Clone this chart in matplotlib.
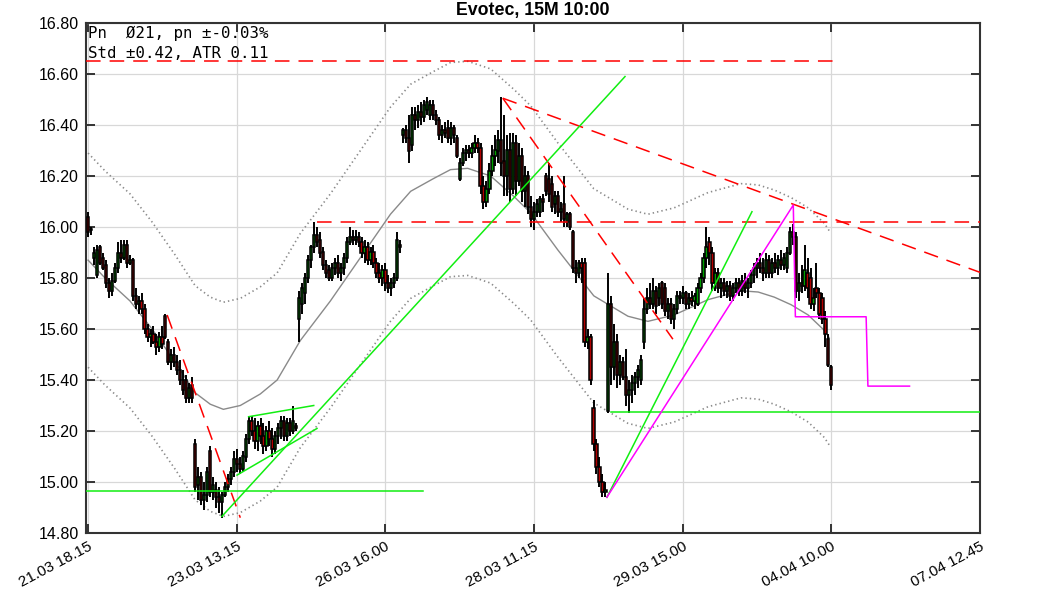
import matplotlib
matplotlib.use("Agg")
import matplotlib.pyplot as plt
import matplotlib.transforms as mtrans
import numpy as np

plt.rcParams['lines.scale_dashes'] = False
plt.rcParams['font.family'] = ['Liberation Sans', 'DejaVu Sans']

# ---------------- data ----------------
tick_pos = [0, 50, 100, 150, 200, 250, 300]
tick_labels = ["21.03 18.15", "23.03 13.15", "26.03 16.00", "28.03 11.15",
               "29.03 15.00", "04.04 10.00", "07.04 12.45"]
y_ticks = [14.8, 15.0, 15.2, 15.4, 15.6, 15.8, 16.0, 16.2, 16.4, 16.6, 16.8]

opens = [16.04, 15.99, 15.88, 15.81, 15.92, 15.88, 15.85, 15.78, 15.75, 15.79,
         15.84, 15.90, 15.88, 15.93, 15.86, 15.87, 15.73, 15.70, 15.71, 15.68,
         15.60, 15.57, 15.58, 15.55, 15.53, 15.57, 15.65, 15.55, 15.47, 15.50,
         15.47, 15.44, 15.40, 15.40, 15.33, 15.38, 15.15, 14.99, 15.02, 14.93,
         14.95, 15.12, 14.96, 14.97, 14.94, 14.92, 14.95, 14.98, 15.01, 15.04,
         15.09, 15.07, 15.05, 15.10, 15.17, 15.24, 15.20, 15.16, 15.22, 15.18,
         15.14, 15.20, 15.17, 15.13, 15.18, 15.21, 15.24, 15.18, 15.23, 15.20,
         15.22, 15.64, 15.70, 15.74, 15.80, 15.87, 15.92, 15.97, 15.95, 15.90,
         15.85, 15.83, 15.80, 15.84, 15.86, 15.82, 15.84, 15.88, 15.94, 15.96,
         15.95, 15.96, 15.94, 15.90, 15.92, 15.87, 15.90, 15.86, 15.82, 15.80,
         15.83, 15.78, 15.76, 15.78, 15.80, 15.93, 16.36, 16.38, 16.35, 16.32,
         16.44, 16.42, 16.45, 16.43, 16.46, 16.44, 16.48, 16.44, 16.42, 16.36,
         16.38, 16.39, 16.35, 16.39, 16.35, 16.19, 16.25, 16.29, 16.30, 16.29,
         16.31, 16.33, 16.31, 16.16, 16.10, 16.15, 16.22, 16.28, 16.30, 16.34,
         16.26, 16.20, 16.30, 16.15, 16.33, 16.18, 16.28, 16.14, 16.20, 16.08,
         16.03, 16.06, 16.06, 16.11, 16.20, 16.19, 16.17, 16.09, 16.12, 16.06,
         16.09, 16.02, 16.05, 15.98, 15.84, 15.82, 15.86, 15.86, 15.55, 15.57,
         15.29, 15.15, 15.06, 15.00, 14.96, 15.28, 15.70, 15.45, 15.55, 15.42,
         15.47, 15.41, 15.34, 15.36, 15.39, 15.41, 15.40, 15.55, 15.68, 15.72,
         15.70, 15.75, 15.72, 15.78, 15.76, 15.67, 15.70, 15.64, 15.68, 15.73,
         15.72, 15.74, 15.70, 15.72, 15.71, 15.70, 15.76, 15.80, 15.88, 15.94,
         15.90, 15.78, 15.82, 15.76, 15.78, 15.75, 15.77, 15.73, 15.76, 15.78,
         15.75, 15.79, 15.76, 15.78, 15.81, 15.84, 15.86, 15.84, 15.82, 15.87,
         15.82, 15.86, 15.84, 15.87, 15.85, 15.84, 15.90, 15.98, 15.96, 15.75,
         15.78, 15.77, 15.82, 15.80, 15.70, 15.76, 15.74, 15.72, 15.64, 15.56,
         15.45]
highs = [16.06, 16.00, 15.92, 15.93, 15.93, 15.90, 15.87, 15.80, 15.82, 15.86,
         15.94, 15.95, 15.95, 15.95, 15.89, 15.88, 15.76, 15.73, 15.74, 15.70,
         15.62, 15.60, 15.61, 15.58, 15.59, 15.61, 15.66, 15.56, 15.52, 15.53,
         15.50, 15.48, 15.44, 15.42, 15.39, 15.41, 15.17, 15.06, 15.04, 15.00,
         15.06, 15.14, 15.02, 15.00, 14.98, 14.96, 15.00, 15.03, 15.06, 15.12,
         15.13, 15.10, 15.12, 15.19, 15.26, 15.26, 15.25, 15.24, 15.25, 15.23,
         15.22, 15.24, 15.21, 15.20, 15.23, 15.26, 15.26, 15.25, 15.25, 15.30,
         15.23, 15.75, 15.78, 15.82, 15.89, 15.93, 16.02, 16.00, 15.98, 15.92,
         15.87, 15.85, 15.86, 15.88, 15.89, 15.86, 15.90, 15.96, 16.00, 15.99,
         15.99, 15.98, 15.96, 15.95, 15.94, 15.92, 15.93, 15.88, 15.86, 15.85,
         15.86, 15.81, 15.80, 15.82, 15.98, 15.95, 16.39, 16.40, 16.44, 16.47,
         16.47, 16.48, 16.49, 16.50, 16.51, 16.50, 16.50, 16.46, 16.43, 16.40,
         16.41, 16.42, 16.41, 16.40, 16.36, 16.27, 16.31, 16.32, 16.32, 16.33,
         16.36, 16.35, 16.33, 16.20, 16.18, 16.25, 16.32, 16.36, 16.38, 16.51,
         16.44, 16.36, 16.37, 16.37, 16.36, 16.33, 16.31, 16.24, 16.22, 16.12,
         16.10, 16.11, 16.12, 16.13, 16.21, 16.25, 16.20, 16.14, 16.14, 16.10,
         16.20, 16.06, 16.06, 15.99, 15.87, 15.87, 15.88, 15.88, 15.60, 15.58,
         15.32, 15.17, 15.10, 15.03, 15.00, 15.82, 15.73, 15.62, 15.58, 15.50,
         15.49, 15.52, 15.40, 15.42, 15.43, 15.46, 15.50, 15.72, 15.76, 15.78,
         15.80, 15.77, 15.78, 15.79, 15.78, 15.72, 15.72, 15.70, 15.75, 15.75,
         15.77, 15.75, 15.74, 15.75, 15.74, 15.78, 15.82, 15.90, 16.00, 15.96,
         15.92, 15.84, 15.84, 15.80, 15.80, 15.79, 15.79, 15.78, 15.80, 15.80,
         15.81, 15.82, 15.80, 15.83, 15.86, 15.88, 15.90, 15.88, 15.90, 15.89,
         15.88, 15.90, 15.89, 15.91, 15.90, 15.92, 16.00, 16.01, 15.98, 15.82,
         15.85, 15.93, 15.88, 15.84, 15.76, 15.86, 15.76, 15.74, 15.67, 15.58,
         15.46]
lows = [15.96, 15.97, 15.85, 15.80, 15.85, 15.83, 15.76, 15.72, 15.73, 15.78,
        15.82, 15.86, 15.87, 15.84, 15.85, 15.71, 15.68, 15.66, 15.66, 15.58,
        15.55, 15.53, 15.54, 15.50, 15.51, 15.52, 15.56, 15.46, 15.44, 15.45,
        15.42, 15.38, 15.34, 15.31, 15.31, 15.31, 14.96, 14.93, 14.91, 14.89,
        14.92, 14.94, 14.93, 14.90, 14.88, 14.86, 14.94, 14.96, 14.99, 15.02,
        15.04, 15.03, 15.04, 15.08, 15.15, 15.18, 15.13, 15.12, 15.15, 15.11,
        15.12, 15.14, 15.10, 15.11, 15.15, 15.17, 15.16, 15.16, 15.18, 15.19,
        15.20, 15.55, 15.66, 15.70, 15.78, 15.84, 15.90, 15.92, 15.88, 15.83,
        15.80, 15.79, 15.79, 15.81, 15.80, 15.79, 15.81, 15.86, 15.93, 15.93,
        15.93, 15.92, 15.88, 15.86, 15.85, 15.85, 15.84, 15.80, 15.78, 15.77,
        15.75, 15.74, 15.73, 15.76, 15.79, 15.90, 16.33, 16.33, 16.25, 16.30,
        16.38, 16.39, 16.40, 16.41, 16.44, 16.42, 16.42, 16.40, 16.34, 16.33,
        16.35, 16.33, 16.32, 16.33, 16.27, 16.18, 16.24, 16.26, 16.27, 16.27,
        16.29, 16.29, 16.13, 16.07, 16.08, 16.13, 16.20, 16.24, 16.25, 16.20,
        16.12, 16.12, 16.10, 16.13, 16.12, 16.16, 16.10, 16.08, 16.05, 16.00,
        15.99, 16.04, 16.04, 16.06, 16.12, 16.10, 16.06, 16.05, 16.04, 16.02,
        16.00, 16.00, 15.99, 15.82, 15.78, 15.80, 15.78, 15.53, 15.52, 15.38,
        15.12, 15.03, 14.98, 14.94, 14.94, 15.27, 15.38, 15.40, 15.37, 15.38,
        15.40, 15.30, 15.27, 15.31, 15.34, 15.37, 15.38, 15.52, 15.66, 15.68,
        15.68, 15.66, 15.69, 15.68, 15.65, 15.64, 15.62, 15.60, 15.66, 15.70,
        15.70, 15.68, 15.68, 15.69, 15.68, 15.69, 15.74, 15.78, 15.84, 15.85,
        15.75, 15.75, 15.74, 15.72, 15.73, 15.72, 15.71, 15.71, 15.74, 15.73,
        15.73, 15.74, 15.72, 15.76, 15.78, 15.80, 15.82, 15.79, 15.80, 15.80,
        15.80, 15.82, 15.81, 15.83, 15.83, 15.82, 15.89, 15.93, 15.72, 15.71,
        15.74, 15.75, 15.72, 15.68, 15.67, 15.72, 15.64, 15.62, 15.53, 15.45,
        15.36]
closes = [15.98, 15.99, 15.90, 15.91, 15.86, 15.84, 15.78, 15.75, 15.79, 15.84,
          15.90, 15.88, 15.93, 15.86, 15.87, 15.73, 15.70, 15.71, 15.68, 15.60,
          15.57, 15.58, 15.55, 15.53, 15.57, 15.54, 15.57, 15.47, 15.50, 15.47,
          15.44, 15.40, 15.36, 15.33, 15.37, 15.33, 14.98, 15.02, 14.93, 14.95,
          15.04, 14.96, 14.99, 14.94, 14.92, 14.95, 14.98, 15.01, 15.04, 15.09,
          15.07, 15.05, 15.10, 15.17, 15.24, 15.20, 15.16, 15.22, 15.18, 15.14,
          15.20, 15.17, 15.13, 15.18, 15.21, 15.24, 15.18, 15.23, 15.20, 15.24,
          15.21, 15.72, 15.76, 15.80, 15.87, 15.92, 15.97, 15.94, 15.90, 15.85,
          15.82, 15.80, 15.84, 15.86, 15.82, 15.84, 15.88, 15.94, 15.96, 15.95,
          15.96, 15.94, 15.90, 15.92, 15.87, 15.90, 15.86, 15.82, 15.80, 15.83,
          15.78, 15.76, 15.78, 15.80, 15.95, 15.92, 16.38, 16.35, 16.30, 16.44,
          16.42, 16.45, 16.43, 16.48, 16.49, 16.48, 16.44, 16.42, 16.36, 16.38,
          16.37, 16.35, 16.39, 16.36, 16.28, 16.25, 16.29, 16.30, 16.29, 16.31,
          16.33, 16.31, 16.16, 16.10, 16.15, 16.22, 16.28, 16.30, 16.34, 16.25,
          16.20, 16.30, 16.15, 16.33, 16.18, 16.28, 16.14, 16.20, 16.08, 16.03,
          16.06, 16.09, 16.11, 16.10, 16.14, 16.13, 16.08, 16.12, 16.06, 16.07,
          16.03, 16.05, 16.00, 15.84, 15.82, 15.86, 15.84, 15.55, 15.57, 15.40,
          15.15, 15.06, 15.00, 14.96, 14.97, 15.70, 15.45, 15.55, 15.42, 15.47,
          15.41, 15.34, 15.36, 15.39, 15.41, 15.44, 15.48, 15.68, 15.72, 15.70,
          15.75, 15.69, 15.76, 15.70, 15.67, 15.70, 15.64, 15.68, 15.73, 15.72,
          15.74, 15.70, 15.72, 15.71, 15.73, 15.76, 15.80, 15.88, 15.92, 15.90,
          15.78, 15.82, 15.76, 15.78, 15.75, 15.77, 15.73, 15.76, 15.78, 15.75,
          15.79, 15.76, 15.78, 15.81, 15.84, 15.86, 15.84, 15.82, 15.87, 15.82,
          15.86, 15.84, 15.87, 15.85, 15.88, 15.90, 15.98, 15.96, 15.75, 15.78,
          15.77, 15.83, 15.76, 15.70, 15.72, 15.74, 15.66, 15.64, 15.58, 15.46,
          15.38]

# smoothed mean line and its standard-deviation band
mid_idx = [0, 5.7, 14.1, 21.5, 29.3, 36.0, 41.1, 45.5, 51.2, 57.9, 63.6, 71.4,
           81.5, 91.6, 101.7, 108.5, 116.2, 121.9, 127.7, 135.4, 143.2, 148.9,
           158.0, 170.1, 181.6, 188.3, 197.1, 208.5, 219.6, 225.4, 230.8, 236.5,
           242.2, 247.6, 249.3]
mid_val = [15.87, 15.80, 15.71, 15.60, 15.47, 15.35, 15.305, 15.285, 15.30,
           15.345, 15.40, 15.555, 15.71, 15.88, 16.05, 16.14, 16.19, 16.225,
           16.23, 16.20, 16.12, 16.055, 15.91, 15.73, 15.65, 15.63, 15.655,
           15.715, 15.75, 15.745, 15.725, 15.695, 15.655, 15.595, 15.565]
std_band = 0.42

# drawn trend lines (x = bar index, y = price)
red_lines = [([-0.7, 252], [16.65, 16.65]),
             ([77.1, 300], [16.02, 16.02]),
             ([26.6, 51.2], [15.655, 14.86]),
             ([139.5, 196.7], [16.505, 15.56]),
             ([139.5, 300.5], [16.505, 15.82])]
green_lines = [([-0.7, 112.5], [14.965, 14.965]),
               ([45.0, 180.6], [14.865, 16.59]),
               ([50.1, 77.0], [15.027, 15.21]),
               ([54.0, 75.9], [15.256, 15.30]),
               ([175.8, 300], [15.274, 15.274]),
               ([174.5, 223.3], [14.94, 16.06])]
magenta_x = [174.5, 237.2, 237.9, 261.7, 262.3, 276.3]
magenta_y = [14.94, 16.086, 15.648, 15.648, 15.376, 15.376]

title = "Evotec, 15M 10:00"
info_lines = ["Pn  \u00d821, pn \u00b1-0.03%", "Std \u00b10.42, ATR 0.11"]

# ---------------- figure ----------------
W, H = 1063, 591
fig = plt.figure(figsize=(W / 100, H / 100), dpi=100)
ax = fig.add_axes([86 / W, 1 - 533 / H, (980 - 86) / W, (533 - 23) / H])

ax.set_xlim(-0.7, 300)
ax.set_ylim(14.8, 16.8)
ax.set_xticks(tick_pos)
ax.set_xticklabels(tick_labels, rotation=28, ha='right', va='top',
                   rotation_mode='anchor', fontsize=11)
shift = mtrans.ScaledTranslation(-4 / 72, 0, fig.dpi_scale_trans)
for lab in ax.get_xticklabels():
    lab.set_transform(lab.get_transform() + shift)
ax.set_yticks(y_ticks)
ax.set_yticklabels([f"{v:.2f}" for v in y_ticks], fontsize=11.5)
ax.grid(True, color='#d8d8d8', linewidth=0.9)
ax.set_axisbelow(True)
ax.tick_params(direction='in', length=6.5, width=1.4, color='#333333',
               top=True, right=True, labeltop=False, labelright=False, pad=5)
ax.tick_params(axis='x', pad=5)
for s in ax.spines.values():
    s.set_color('#333333')
    s.set_linewidth(1.5)

# mean line + bands
mid = np.array(mid_val)
ax.plot(mid_idx, mid, color='#8a8a8a', lw=1.0, zorder=2)
ax.plot(mid_idx, mid + std_band, color='#8a8a8a', lw=1.2,
        linestyle=(0, (1, 2.2)), zorder=2)
ax.plot(mid_idx, mid - std_band, color='#8a8a8a', lw=1.2,
        linestyle=(0, (1, 2.2)), zorder=2)

# candlesticks
o = np.array(opens); h = np.array(highs); l = np.array(lows); c = np.array(closes)
xi = np.arange(len(o))
ax.vlines(xi, l, h, color='black', lw=1.4, zorder=3)
body_lo = np.minimum(o, c)
body_h = np.maximum(np.abs(c - o), 0.004)
cols = np.where(c >= o, '#00a000', '#b00000')
ax.bar(xi, body_h, bottom=body_lo, width=0.75, color=cols,
       edgecolor='black', linewidth=1.1, zorder=4)

# trend lines
for xs, ys in red_lines:
    ax.plot(xs, ys, color='#ff0000', lw=1.1, linestyle=(0, (10.5, 6.5)), zorder=5)
for xs, ys in green_lines:
    ax.plot(xs, ys, color='#11ee11', lw=1.1, zorder=5)
ax.plot(magenta_x, magenta_y, color='#ff00ff', lw=1.1, zorder=5)

# texts
fig.text(533 / W, 1 - 15 / H, title, ha='center', va='baseline',
         fontsize=12.8, fontweight='bold')
fig.text(88 / W, 1 - 38 / H, info_lines[0], ha='left', va='baseline',
         fontsize=11.3, family='DejaVu Sans Mono')
fig.text(88 / W, 1 - 58 / H, info_lines[1], ha='left', va='baseline',
         fontsize=11.3, family='DejaVu Sans Mono')

fig.savefig('out.png', dpi=100)
